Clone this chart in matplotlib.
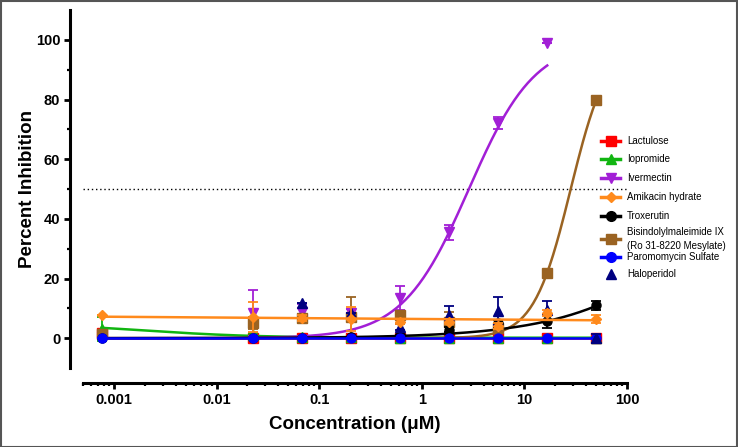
import numpy as np
import matplotlib
matplotlib.use("Agg")
import matplotlib.pyplot as plt
from matplotlib.lines import Line2D
from matplotlib.patches import Rectangle
from matplotlib.ticker import FixedLocator, FixedFormatter, LogLocator, NullFormatter

plt.rcParams['font.family'] = ['Liberation Sans', 'DejaVu Sans']

# concentrations (uM), 3-fold dilution series
conc = [0.00076, 0.0229, 0.0686, 0.206, 0.617, 1.85, 5.56, 16.7, 50]

lactulose = [1.7, 0, 0, 0, 0, 0, 0, 0, 0]
lactulose_err = [0, 0, 0, 0, 0, 0, 0, 0, 0]
iopromide = [3.0, 1.0, 0.5, 0.3, 0.2, 0.2, 0.2, 0.2, 0.2]
iopromide_err = [4.0, 0.8, 0, 0, 0, 0, 0, 0, 0]
ivermectin = [0.5, 8.4, 8.8, 8.4, 13.5, 35.5, 72.0, 99.0]
ivermectin_err = [0, 7.8, 2.5, 1.5, 4.0, 2.5, 2.0, 0]
amikacin = [7.7, 7.0, 6.7, 6.5, 5.5, 5.5, 4.0, 8.4, 6.5]
amikacin_err = [0, 5.0, 1.0, 4.0, 0.8, 0.8, 1.0, 1.0, 1.3]
troxerutin = [0, 0, 0.2, 0.5, 1.0, 2.9, 5.0, 5.7, 11.0]
troxerutin_err = [0, 0, 0, 0, 0, 0.8, 1.2, 2.4, 1.5]
bisindolyl = [1.5, 5.0, 6.7, 7.0, 7.8, 5.5, 3.5, 22.0, 79.7]
bisindolyl_err = [0, 2.0, 1.5, 6.9, 1.0, 3.4, 1.0, 0, 0]
paromomycin = [0, 0, 0, 0, 0, 0, 0, 0, 0]
paromomycin_err = [0, 0, 0, 0, 0, 0, 0, 0, 0]
haloperidol = [np.nan, np.nan, 11.8, 8.5, 3.7, 7.8, 9.2, 9.4, 0]
haloperidol_err = [0, 0, 0, 0, 1.0, 3.1, 4.7, 3.2, 1.5]

# fitted curve parameters (bottom, top, ec50, hill)
iopromide_fit = (0.15, 5.0, 0.002, 0.8)
ivermectin_fit = (0.0, 100.0, 2.88, 1.345)
troxerutin_fit = (0.0, 100.0, 1427.0, 0.63)
bisindolyl_fit = (0.0, 100.0, 28.3, 2.4)
amikacin_line = (7.2, 6.0)  # value at first and last concentration

x_ticks = [0.001, 0.01, 0.1, 1, 10, 100]
x_tick_labels = ['0.001', '0.01', '0.1', '1', '10', '100']

names = ['Lactulose', 'Iopromide', 'Ivermectin', 'Amikacin hydrate', 'Troxerutin',
         'Bisindolylmaleimide IX\n(Ro 31-8220 Mesylate)', 'Paromomycin Sulfate',
         'Haloperidol']


def hill(x, p):
    bottom, top, ec50, h = p
    return bottom + (top - bottom) / (1 + (ec50 / x) ** h)


def hill_down(x, p):
    bottom, top, ec50, h = p
    return bottom + (top - bottom) / (1 + (x / ec50) ** h)


fig = plt.figure(figsize=(7.38, 4.47), dpi=100)
ax = fig.add_axes([83 / 738, 1 - 368 / 447, (627 - 83) / 738, 358 / 447])

xs = np.logspace(np.log10(conc[0]), np.log10(conc[-1]), 300)
xs_iv = np.logspace(np.log10(conc[0]), np.log10(conc[7]), 300)

red = '#FF0000'
green = '#11B511'
purple = '#A21FD6'
orange = '#FF8A1C'
brown = '#9A6322'
blue = '#0000FF'
navy = '#000080'

ax.axhline(50, color='black', lw=1, ls=(0, (1, 2)), zorder=1)

lw = 1.8
ms = 6.5
cap = 3.5


def series(x, y, err, color, marker, curve_x, curve_y, z, ms=ms):
    ax.plot(curve_x, curve_y, color=color, lw=lw, zorder=z)
    ax.errorbar(x, y, yerr=err, fmt=marker, color=color, ms=ms, capsize=cap,
                elinewidth=1.3, capthick=1.3, zorder=z + 0.5)


series(conc, lactulose, lactulose_err, red, 's', xs, np.zeros_like(xs), 2)
series(conc, iopromide, iopromide_err, green, '^', xs, hill_down(xs, iopromide_fit), 3)
series(conc[:8], ivermectin, ivermectin_err, purple, 'v', xs_iv, hill(xs_iv, ivermectin_fit), 4)
t = (np.log10(xs) - np.log10(conc[0])) / (np.log10(conc[-1]) - np.log10(conc[0]))
series(conc, amikacin, amikacin_err, orange, 'D',
       xs, amikacin_line[0] + (amikacin_line[1] - amikacin_line[0]) * t, 7, ms=5)
series(conc, troxerutin, troxerutin_err, 'black', 'o', xs, hill(xs, troxerutin_fit), 5)
series(conc, bisindolyl, bisindolyl_err, brown, 's', xs, hill(xs, bisindolyl_fit), 4.5)
series(conc, paromomycin, paromomycin_err, blue, 'o', xs, np.zeros_like(xs), 6)
ax.errorbar(conc, haloperidol, yerr=haloperidol_err, fmt='^', color=navy, ms=ms,
            capsize=cap, elinewidth=1.3, capthick=1.3, zorder=6.8)

ax.set_xscale('log')
ax.set_xlim(0.0005, 100)
ax.set_ylim(-10, 110)
ax.xaxis.set_major_locator(FixedLocator(x_ticks))
ax.xaxis.set_major_formatter(FixedFormatter(x_tick_labels))
ax.xaxis.set_minor_locator(LogLocator(base=10, subs=np.arange(2, 10), numticks=20))
ax.xaxis.set_minor_formatter(NullFormatter())
ax.yaxis.set_major_locator(FixedLocator([0, 20, 40, 60, 80, 100]))
ax.yaxis.set_minor_locator(FixedLocator([10, 30, 50, 70, 90]))

for s in ['top', 'right']:
    ax.spines[s].set_visible(False)
ax.spines['left'].set_position(('outward', 13 * 0.72))
ax.spines['bottom'].set_position(('outward', 15 * 0.72))
ax.spines['left'].set_linewidth(2.2)
ax.spines['bottom'].set_linewidth(2.2)
ax.tick_params(which='major', length=4, width=2, labelsize=10.5, pad=3)
ax.tick_params(which='minor', length=2.5, width=1.6)
for lab in ax.get_xticklabels() + ax.get_yticklabels():
    lab.set_fontweight('bold')

ax.set_ylabel('Percent Inhibition', fontsize=13.5, fontweight='bold', va='center')
ax.yaxis.set_label_coords((28 - 83) / 544, 0.5)
ax.set_xlabel('Concentration (μM)', fontsize=13.5, fontweight='bold', va='center')
ax.xaxis.set_label_coords(0.5, -0.159)

# legend drawn by hand (Prism-like compact spacing)
leg_colors = [red, green, purple, orange, 'black', brown, blue, navy]
leg_markers = ['s', '^', 'v', 'D', 'o', 's', 'o', '^']
leg_rows = [140.7, 159.3, 178.3, 196.7, 215.7, 239.0, 256.7, 274.3]
W, H = 738, 447
for i, name in enumerate(names):
    yy = 1 - leg_rows[i] / H
    has_line = name != 'Haloperidol'
    if has_line:
        fig.add_artist(Line2D([601 / W, 620 / W], [yy, yy], color=leg_colors[i],
                              lw=2.5, transform=fig.transFigure))
    fig.add_artist(Line2D([610.5 / W], [yy], color=leg_colors[i], marker=leg_markers[i],
                          ms=5.5 if leg_markers[i] == 'D' else 7, ls='none',
                          transform=fig.transFigure))
    fig.text(627 / W, yy, name, fontsize=7, va='center', ha='left',
             linespacing=1.45)

fig.add_artist(Rectangle((0.001, 0.001), 0.997, 0.997, transform=fig.transFigure,
                         fill=False, edgecolor='#555555', lw=1.5))

fig.savefig('out.png', dpi=100)
